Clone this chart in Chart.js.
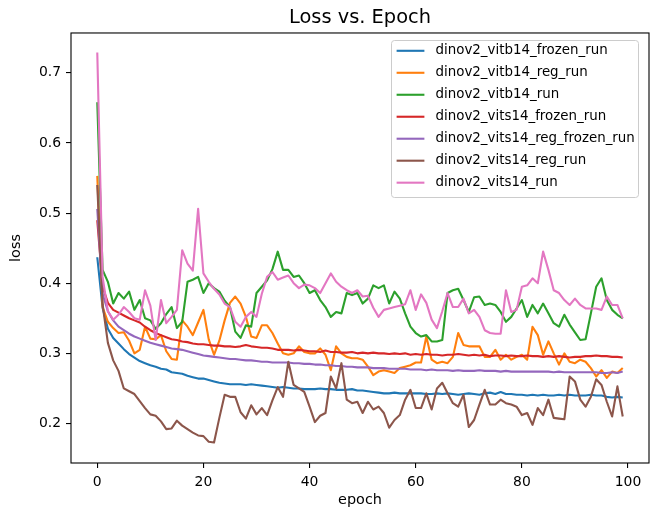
<!DOCTYPE html>
<html>
<head>
<meta charset="utf-8">
<title>Loss vs. Epoch</title>
<script src="https://cdn.jsdelivr.net/npm/chart.js@4/dist/chart.umd.min.js"></script>
<style>
  html, body { margin: 0; padding: 0; background: #ffffff; }
  #wrap { width: 653px; height: 514px; }
</style>
</head>
<body>
<div id="wrap"><canvas id="lossChart" width="653" height="514"></canvas></div>
<script>
// Data (loss per epoch, 100 epochs each)
const runNames = [
    'dinov2_vitb14_frozen_run',
    'dinov2_vitb14_reg_run',
    'dinov2_vitb14_run',
    'dinov2_vits14_frozen_run',
    'dinov2_vits14_reg_frozen_run',
    'dinov2_vits14_reg_run',
    'dinov2_vits14_run'
];
const runColors = ['#1f77b4', '#ff7f0e', '#2ca02c', '#d62728', '#9467bd', '#8c564b', '#e377c2'];

const vitb14Frozen = [
    0.437, 0.365, 0.335, 0.322, 0.314, 0.306, 0.299, 0.294, 0.289, 0.286,
    0.283, 0.281, 0.278, 0.277, 0.273, 0.272, 0.271, 0.268, 0.266, 0.264,
    0.264, 0.262, 0.260, 0.258, 0.257, 0.256, 0.256, 0.256, 0.255, 0.256,
    0.255, 0.254, 0.253, 0.252, 0.251, 0.252, 0.251, 0.250, 0.250, 0.249,
    0.249, 0.249, 0.250, 0.249, 0.249, 0.248, 0.248, 0.248, 0.249, 0.247,
    0.247, 0.246, 0.245, 0.244, 0.243, 0.243, 0.244, 0.243, 0.243, 0.243,
    0.243, 0.243, 0.242, 0.242, 0.243, 0.242, 0.243, 0.242, 0.241, 0.242,
    0.243, 0.242, 0.241, 0.243, 0.244, 0.242, 0.245, 0.242, 0.242, 0.241,
    0.241, 0.240, 0.241, 0.240, 0.241, 0.240, 0.240, 0.241, 0.240, 0.241,
    0.240, 0.240, 0.240, 0.241, 0.240, 0.240, 0.238, 0.237, 0.238, 0.237
];
const vitb14Reg = [
    0.553, 0.366, 0.345, 0.336, 0.329, 0.330, 0.318, 0.300, 0.305, 0.338,
    0.321, 0.320, 0.326, 0.303, 0.292, 0.291, 0.347, 0.338, 0.326, 0.344,
    0.362, 0.320, 0.298, 0.318, 0.347, 0.372, 0.381, 0.371, 0.352, 0.324,
    0.322, 0.340, 0.340, 0.329, 0.314, 0.300, 0.298, 0.300, 0.310, 0.302,
    0.300, 0.300, 0.307, 0.298, 0.276, 0.310, 0.300, 0.295, 0.293, 0.293,
    0.291, 0.281, 0.269, 0.274, 0.276, 0.274, 0.272, 0.279, 0.281, 0.283,
    0.287, 0.287, 0.324, 0.291, 0.286, 0.288, 0.286, 0.295, 0.329, 0.312,
    0.310, 0.310, 0.310, 0.295, 0.295, 0.305, 0.291, 0.298, 0.291, 0.295,
    0.298, 0.291, 0.338, 0.326, 0.298, 0.317, 0.300, 0.284, 0.300, 0.288,
    0.286, 0.291, 0.288, 0.279, 0.267, 0.276, 0.265, 0.274, 0.272, 0.279
];
const vitb14 = [
    0.658, 0.419, 0.402, 0.371, 0.386, 0.378, 0.388, 0.362, 0.376, 0.350,
    0.347, 0.335, 0.343, 0.356, 0.366, 0.336, 0.345, 0.402, 0.405, 0.409,
    0.386, 0.400, 0.393, 0.388, 0.375, 0.366, 0.331, 0.322, 0.340, 0.338,
    0.386, 0.395, 0.404, 0.420, 0.445, 0.419, 0.419, 0.409, 0.411, 0.400,
    0.386, 0.390, 0.376, 0.366, 0.352, 0.359, 0.357, 0.386, 0.383, 0.386,
    0.371, 0.378, 0.397, 0.393, 0.397, 0.371, 0.388, 0.378, 0.357, 0.338,
    0.329, 0.324, 0.326, 0.317, 0.317, 0.319, 0.386, 0.390, 0.392, 0.376,
    0.359, 0.380, 0.381, 0.369, 0.371, 0.369, 0.359, 0.345, 0.352, 0.364,
    0.376, 0.352, 0.369, 0.357, 0.371, 0.357, 0.343, 0.338, 0.355, 0.341,
    0.330, 0.319, 0.320, 0.357, 0.395, 0.407, 0.376, 0.362, 0.355, 0.350
];
const vits14Frozen = [
    0.490, 0.395, 0.372, 0.362, 0.358, 0.354, 0.350, 0.347, 0.344, 0.338,
    0.333, 0.329, 0.326, 0.323, 0.320, 0.319, 0.317, 0.316, 0.314, 0.313,
    0.313, 0.312, 0.311, 0.311, 0.310, 0.310, 0.309, 0.310, 0.312, 0.310,
    0.309, 0.308, 0.308, 0.307, 0.305, 0.305, 0.305, 0.304, 0.305, 0.304,
    0.303, 0.303, 0.302, 0.304, 0.302, 0.302, 0.301, 0.301, 0.302, 0.300,
    0.301, 0.300, 0.301, 0.300, 0.300, 0.299, 0.300, 0.299, 0.300, 0.298,
    0.299, 0.298, 0.299, 0.298, 0.298, 0.297, 0.298, 0.298, 0.299, 0.298,
    0.297, 0.298, 0.297, 0.298, 0.296, 0.297, 0.297, 0.296, 0.297, 0.296,
    0.296, 0.297, 0.296, 0.296, 0.295, 0.296, 0.295, 0.296, 0.295, 0.294,
    0.295, 0.295, 0.296, 0.296, 0.297, 0.296, 0.296, 0.295, 0.295, 0.294
];
const vits14RegFrozen = [
    0.506, 0.385, 0.360, 0.347, 0.338, 0.333, 0.328, 0.324, 0.321, 0.318,
    0.315, 0.313, 0.311, 0.309, 0.307, 0.306, 0.305, 0.303, 0.301, 0.299,
    0.297, 0.296, 0.295, 0.294, 0.293, 0.292, 0.292, 0.291, 0.290, 0.290,
    0.289, 0.288, 0.288, 0.287, 0.287, 0.287, 0.287, 0.286, 0.286, 0.285,
    0.285, 0.284, 0.284, 0.283, 0.283, 0.282, 0.282, 0.281, 0.281, 0.280,
    0.280, 0.280, 0.279, 0.279, 0.279, 0.278, 0.278, 0.278, 0.278, 0.277,
    0.277, 0.277, 0.276, 0.277, 0.276, 0.276, 0.276, 0.275, 0.276, 0.275,
    0.275, 0.275, 0.276, 0.275, 0.275, 0.275, 0.274, 0.275, 0.274, 0.274,
    0.274, 0.274, 0.274, 0.274, 0.274, 0.274, 0.273, 0.274, 0.273, 0.273,
    0.273, 0.273, 0.273, 0.273, 0.273, 0.272, 0.272, 0.273, 0.272, 0.274
];
const vits14Reg = [
    0.540, 0.370, 0.315, 0.290, 0.275, 0.250, 0.246, 0.242, 0.232, 0.222,
    0.213, 0.211, 0.203, 0.192, 0.193, 0.204, 0.197, 0.192, 0.187, 0.183,
    0.182, 0.174, 0.173, 0.208, 0.241, 0.238, 0.238, 0.216, 0.207, 0.226,
    0.213, 0.222, 0.212, 0.233, 0.252, 0.238, 0.288, 0.255, 0.250, 0.245,
    0.224, 0.202, 0.211, 0.215, 0.267, 0.250, 0.286, 0.234, 0.229, 0.231,
    0.215, 0.231, 0.220, 0.224, 0.215, 0.194, 0.205, 0.212, 0.234, 0.248,
    0.222, 0.222, 0.243, 0.220, 0.250, 0.258, 0.243, 0.229, 0.224, 0.241,
    0.195, 0.205, 0.227, 0.248, 0.227, 0.227, 0.234, 0.229, 0.227, 0.224,
    0.212, 0.215, 0.198, 0.222, 0.212, 0.234, 0.208, 0.207, 0.206, 0.267,
    0.260, 0.234, 0.224, 0.238, 0.263, 0.255, 0.231, 0.210, 0.253, 0.210
];
const vits14 = [
    0.729, 0.409, 0.360, 0.348, 0.355, 0.366, 0.359, 0.350, 0.348, 0.390,
    0.368, 0.319, 0.376, 0.343, 0.352, 0.362, 0.447, 0.428, 0.418, 0.506,
    0.414, 0.402, 0.392, 0.384, 0.371, 0.366, 0.345, 0.338, 0.352, 0.359,
    0.352, 0.385, 0.409, 0.416, 0.405, 0.408, 0.411, 0.400, 0.393, 0.398,
    0.397, 0.393, 0.386, 0.400, 0.414, 0.402, 0.395, 0.390, 0.386, 0.390,
    0.381, 0.382, 0.365, 0.352, 0.362, 0.364, 0.366, 0.368, 0.370, 0.390,
    0.362, 0.384, 0.372, 0.348, 0.336, 0.360, 0.386, 0.366, 0.366, 0.378,
    0.357, 0.362, 0.352, 0.333, 0.329, 0.328, 0.328, 0.390, 0.359, 0.362,
    0.395, 0.397, 0.407, 0.400, 0.445, 0.419, 0.390, 0.386, 0.376, 0.369,
    0.378, 0.369, 0.364, 0.364, 0.364, 0.362, 0.381, 0.369, 0.369, 0.350
];

const runValues = [vitb14Frozen, vitb14Reg, vitb14, vits14Frozen, vits14RegFrozen, vits14Reg, vits14];
const xTicks = [0, 20, 40, 60, 80, 100];
const yTicks = [0.2, 0.3, 0.4, 0.5, 0.6, 0.7];

const FONT = "'DejaVu Sans', sans-serif";

// рамка вокруг области графика (все четыре стороны)
const framePlugin = {
    id: 'frame',
    afterDatasetsDraw(chart) {
        const a = chart.chartArea;
        const ctx = chart.ctx;
        ctx.save();
        ctx.strokeStyle = '#000';
        ctx.lineWidth = 1.1;
        ctx.strokeRect(a.left, a.top, a.right - a.left, a.bottom - a.top);
        ctx.restore();
    }
};

// легенда внутри области графика, справа сверху
const innerLegend = {
    id: 'innerLegend',
    afterDraw(chart) {
        const ctx = chart.ctx;
        const sets = chart.data.datasets;
        const x0 = 391, y0 = 40, w = 247, h = 157, r = 3;
        ctx.save();
        ctx.beginPath();
        ctx.roundRect(x0 + 0.5, y0 + 0.5, w, h, r);
        ctx.fillStyle = 'rgba(255,255,255,0.8)';
        ctx.fill();
        ctx.strokeStyle = '#cccccc';
        ctx.lineWidth = 1;
        ctx.stroke();
        ctx.font = '13.4px ' + FONT;
        ctx.textBaseline = 'middle';
        ctx.textAlign = 'left';
        sets.forEach((ds, i) => {
            const y = 50.8 + i * 21.98;
            ctx.beginPath();
            ctx.moveTo(396.6, y);
            ctx.lineTo(424.4, y);
            ctx.strokeStyle = ds.borderColor;
            ctx.lineWidth = 2.1;
            ctx.stroke();
            ctx.fillStyle = '#000';
            ctx.fillText(ds.label, 435.5, y);
        });
        ctx.restore();
    }
};

const datasets = runNames.map((name, i) => ({
    label: name,
    data: runValues[i].map((v, epoch) => ({ x: epoch, y: v })),
    borderColor: runColors[i],
    backgroundColor: runColors[i],
    borderWidth: 2.1,
    borderJoinStyle: 'round',
    pointRadius: 0,
    tension: 0,
    fill: false,
    order: runNames.length - i
}));

new Chart(document.getElementById('lossChart'), {
    type: 'line',
    data: { datasets: datasets },
    options: {
        responsive: false,
        animation: false,
        events: [],
        layout: { padding: { left: 0, right: 4, top: 0, bottom: 0 } },
        plugins: {
            legend: { display: false },
            tooltip: { enabled: false },
            title: {
                display: true,
                fullSize: false,
                text: 'Loss vs. Epoch',
                color: '#000',
                font: { family: FONT, size: 19.4, weight: 'normal', lineHeight: 1.2 },
                padding: { top: 6, bottom: 3.7 }
            }
        },
        scales: {
            x: {
                type: 'linear',
                min: -4.95,
                max: 103.95,
                afterBuildTicks: s => { s.ticks = xTicks.map(v => ({ value: v })); },
                afterFit: s => { s.height = 51; },
                grid: { drawOnChartArea: false, drawTicks: true, tickLength: 5, color: '#000', lineWidth: 1.1 },
                border: { display: false },
                ticks: {
                    color: '#000',
                    padding: 6,
                    maxRotation: 0,
                    font: { family: FONT, size: 13.9 },
                    callback: v => String(v)
                },
                title: {
                    display: true,
                    text: 'epoch',
                    color: '#000',
                    font: { family: FONT, size: 14.4 },
                    padding: { top: 0, bottom: 5 }
                }
            },
            y: {
                type: 'linear',
                min: 0.1437,
                max: 0.7567,
                afterBuildTicks: s => { s.ticks = yTicks.map(v => ({ value: v })); },
                afterFit: s => { s.width = 71; },
                grid: { drawOnChartArea: false, drawTicks: true, tickLength: 5, color: '#000', lineWidth: 1.1 },
                border: { display: false },
                ticks: {
                    color: '#000',
                    padding: 5,
                    font: { family: FONT, size: 13.9 },
                    callback: v => v.toFixed(1)
                },
                title: {
                    display: true,
                    text: 'loss',
                    color: '#000',
                    font: { family: FONT, size: 14.4 },
                    padding: { top: 8, bottom: 0 }
                }
            }
        }
    },
    plugins: [framePlugin, innerLegend]
});
</script>
</body>
</html>
